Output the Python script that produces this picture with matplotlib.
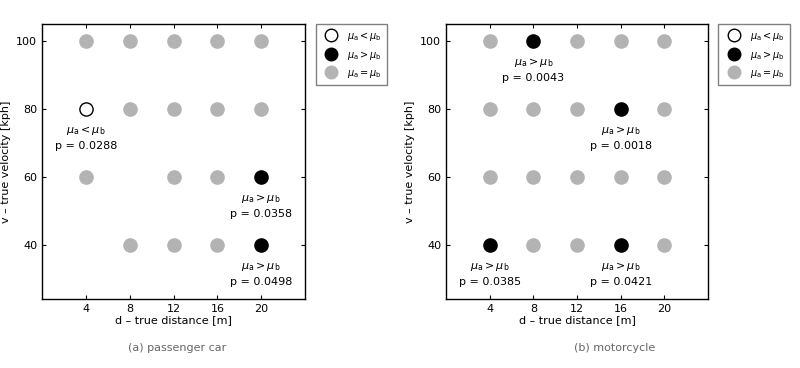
import matplotlib
matplotlib.use('Agg')
import matplotlib.pyplot as plt

# grid of test conditions
dist_ticks = [4, 8, 12, 16, 20]
vel_ticks = [40, 60, 80, 100]

# (a) passenger car
car_equal_d = [4, 8, 12, 16, 20, 8, 12, 16, 20, 4, 12, 16, 8, 12, 16]
car_equal_v = [100, 100, 100, 100, 100, 80, 80, 80, 80, 60, 60, 60, 40, 40, 40]
car_less_d = [4]
car_less_v = [80]
car_less_p = ['0.0288']
car_greater_d = [20, 20]
car_greater_v = [60, 40]
car_greater_p = ['0.0358', '0.0498']

# (b) motorcycle
moto_equal_d = [4, 12, 16, 20, 4, 8, 12, 20, 4, 8, 12, 16, 20, 8, 12, 20]
moto_equal_v = [100, 100, 100, 100, 80, 80, 80, 80, 60, 60, 60, 60, 60, 40, 40, 40]
moto_less_d = []
moto_less_v = []
moto_less_p = []
moto_greater_d = [8, 16, 4, 16]
moto_greater_v = [100, 80, 40, 40]
moto_greater_p = ['0.0043', '0.0018', '0.0385', '0.0421']

LT = r'$\mu_\mathrm{a} < \mu_\mathrm{b}$'
GT = r'$\mu_\mathrm{a} > \mu_\mathrm{b}$'
EQ = r'$\mu_\mathrm{a} = \mu_\mathrm{b}$'

plt.rcParams['font.family'] = ['DejaVu Sans']
plt.rcParams['mathtext.fontset'] = 'dejavusans'


def panel(ax, eq_d, eq_v, lt_d, lt_v, lt_p, gt_d, gt_v, gt_p):
    ms = 9.5
    ax.plot(lt_d, lt_v, 'o', ms=ms, mfc='white', mec='black', mew=1.0, label=LT)
    ax.plot(gt_d, gt_v, 'o', ms=ms, mfc='black', mec='black', label=GT)
    ax.plot(eq_d, eq_v, 'o', ms=ms, mfc='#b3b3b3', mec='#b3b3b3', label=EQ)
    for d, v, p in zip(lt_d, lt_v, lt_p):
        ax.annotate(LT + '\np = ' + p, (d, v), xytext=(0, -11),
                    textcoords='offset points', ha='center', va='top',
                    fontsize=8, linespacing=1.45)
    for d, v, p in zip(gt_d, gt_v, gt_p):
        ax.annotate(GT + '\np = ' + p, (d, v), xytext=(0, -11),
                    textcoords='offset points', ha='center', va='top',
                    fontsize=8, linespacing=1.45)
    ax.set_xlim(0, 24)
    ax.set_ylim(24, 105)
    ax.set_xticks(dist_ticks)
    ax.set_yticks(vel_ticks)
    ax.tick_params(direction='in', top=True, right=True, labelsize=8,
                   length=3, width=0.8)
    for s in ax.spines.values():
        s.set_linewidth(1.0)
    ax.set_xlabel('d \u2013 true distance [m]', fontsize=8, labelpad=1)
    ax.set_ylabel('v \u2013 true velocity [kph]', fontsize=8, labelpad=4)
    leg = ax.legend(loc='upper left', bbox_to_anchor=(1.04, 1.0), fontsize=7,
                    frameon=True, fancybox=False, borderaxespad=0,
                    handletextpad=0.6, handlelength=2.0, markerscale=0.95,
                    labelspacing=0.6, borderpad=0.6)
    leg.get_frame().set_edgecolor('#606060')
    leg.get_frame().set_linewidth(1.0)


fig = plt.figure(figsize=(8, 3.68), dpi=100)
ax1 = fig.add_axes([42 / 800, 1 - 299 / 368, 263 / 800, 275 / 368])
ax2 = fig.add_axes([446 / 800, 1 - 299 / 368, 262 / 800, 275 / 368])

panel(ax1, car_equal_d, car_equal_v, car_less_d, car_less_v, car_less_p,
      car_greater_d, car_greater_v, car_greater_p)
panel(ax2, moto_equal_d, moto_equal_v, moto_less_d, moto_less_v, moto_less_p,
      moto_greater_d, moto_greater_v, moto_greater_p)

fig.text(177 / 800, 1 - 348 / 368, '(a) passenger car', ha='center', va='center',
         fontsize=8, color='#666666')
fig.text(615 / 800, 1 - 348 / 368, '(b) motorcycle', ha='center', va='center',
         fontsize=8, color='#666666')

fig.savefig('out.png', dpi=100)
